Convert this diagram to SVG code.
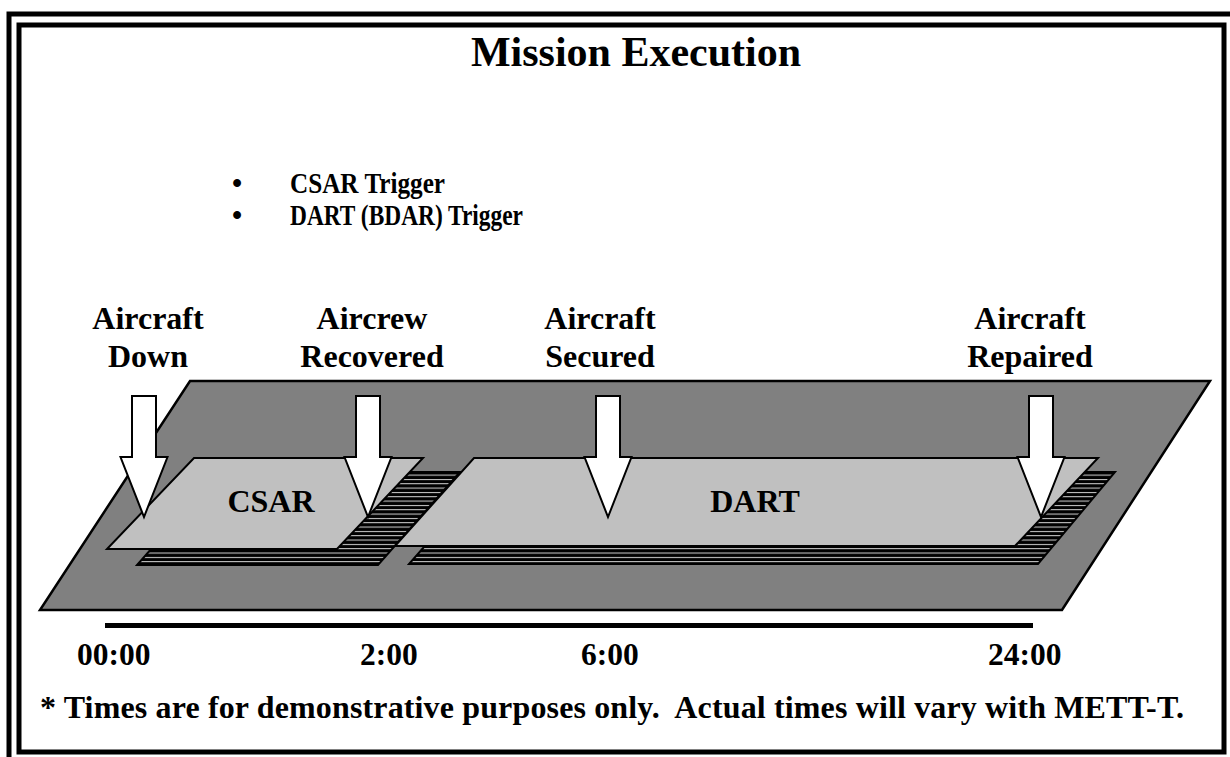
<svg xmlns="http://www.w3.org/2000/svg" width="1230" height="757" viewBox="0 0 1230 757">
<style>
.t{font-family:"Liberation Serif","Times New Roman",serif;font-weight:bold;fill:#000}
.lbl{font-size:32px;text-anchor:middle}
.frame{fill:none;stroke:#000;stroke-width:5}
.plane{fill:#808080;stroke:#000;stroke-width:2.5;stroke-linejoin:miter}
.block{fill:#c0c0c0;stroke:#000;stroke-width:2}
.shadow{fill:url(#hatch);stroke:#000;stroke-width:2}
.arrow{fill:#fff;stroke:#000;stroke-width:2;stroke-linejoin:miter}
</style>
<defs>
<pattern id="hatch" patternUnits="userSpaceOnUse" x="0" y="472" width="20" height="4.33">
<rect width="20" height="4.33" fill="#000"/>
<rect y="2.6" width="20" height="1" fill="#d8d8d8"/>
</pattern>
<path id="arr" d="M-12,0 H12 V61 H23.5 L0,121 L-23.5,61 H-12 Z"/>
</defs>
<rect width="1230" height="757" fill="#fff"/>
<path class="frame" d="M9,757 V14 H1230"/>
<rect class="frame" x="19" y="25" width="1205" height="727"/>
<text class="t" x="636" y="66" font-size="42" text-anchor="middle">Mission Execution</text>
<g id="bullets">
<text class="t" x="232" y="193" font-size="29">•</text>
<text class="t" x="290" y="193" font-size="29" textLength="155" lengthAdjust="spacingAndGlyphs">CSAR Trigger</text>
<text class="t" x="232" y="225" font-size="29">•</text>
<text class="t" x="290" y="225" font-size="29" textLength="233" lengthAdjust="spacingAndGlyphs">DART (BDAR) Trigger</text>
</g>
<g id="timeline-plane">
<polygon class="plane" points="190,381 1210,381 1062,610 40,610"/>
</g>
<g id="csar">
<polygon class="shadow" points="219,472 460,472 378,565 137,565"/>
<polygon class="block" points="194,458 423,458 337,549 107,549"/>
<text class="t lbl" x="271" y="512">CSAR</text>
</g>
<g id="dart">
<polygon class="shadow" points="490,472 1115,472 1038,564 409,564"/>
<polygon class="block" points="474,458 1098,458 1015,546 395,546"/>
<text class="t lbl" x="755" y="512">DART</text>
</g>
<g id="connectors">
<use href="#arr" class="arrow" transform="translate(144,396)"/>
<use href="#arr" class="arrow" transform="translate(368,396)"/>
<use href="#arr" class="arrow" transform="translate(608,396)"/>
<use href="#arr" class="arrow" transform="translate(1041,396)"/>
</g>
<g id="ev-down"><text class="t lbl" x="148" y="329">Aircraft</text><text class="t lbl" x="148" y="367">Down</text></g>
<g id="ev-recovered"><text class="t lbl" x="372" y="329">Aircrew</text><text class="t lbl" x="372" y="367">Recovered</text></g>
<g id="ev-secured"><text class="t lbl" x="600" y="329">Aircraft</text><text class="t lbl" x="600" y="367">Secured</text></g>
<g id="ev-repaired"><text class="t lbl" x="1030" y="329">Aircraft</text><text class="t lbl" x="1030" y="367">Repaired</text></g>
<g id="axis">
<rect x="105" y="623" width="928" height="5" fill="#000"/>
<text class="t" x="77" y="665" font-size="31.5">00:00</text>
<text class="t" x="360" y="665" font-size="31.5">2:00</text>
<text class="t" x="581" y="665" font-size="31.5">6:00</text>
<text class="t" x="988" y="665" font-size="31.5">24:00</text>
</g>
<text class="t" x="40" y="718" font-size="32" textLength="1144" xml:space="preserve">* Times are for demonstrative purposes only.  Actual times will vary with METT-T.</text>
</svg>
